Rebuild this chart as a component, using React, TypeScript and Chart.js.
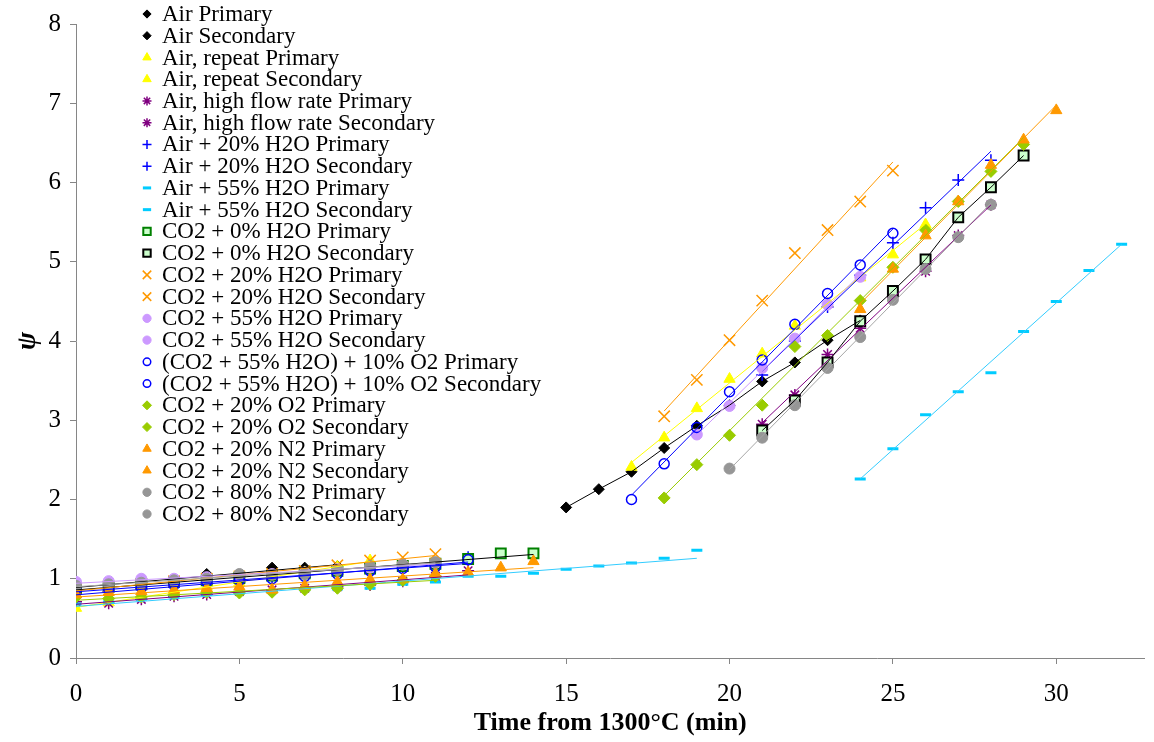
import React, { useEffect, useRef } from 'react';
import { Chart, registerables } from 'chart.js';
import { drawPoint } from 'chart.js/helpers';

Chart.register(...registerables);

// ---------- DATA ----------
const conditions = [
  'Air',
  'Air, repeat',
  'Air, high flow rate',
  'Air + 20% H2O',
  'Air + 55% H2O',
  'CO2 + 0% H2O',
  'CO2 + 20% H2O',
  'CO2 + 55% H2O',
  '(CO2 + 55% H2O) + 10% O2',
  'CO2 + 20% O2',
  'CO2 + 20% N2',
  'CO2 + 80% N2',
];
const phases = ['Primary', 'Secondary'];

const xTicks = [0, 5, 10, 15, 20, 25, 30];
const yTicks = [0, 1, 2, 3, 4, 5, 6, 7, 8];

// Primary stage (time, psi)
const airPT = [0, 1, 2, 3, 4, 5, 6, 7, 8];
const airPY = [0.90, 0.92, 0.95, 0.98, 1.06, 1.05, 1.14, 1.14, 1.16];
const airRepPT = [0, 1, 2, 3, 4, 5, 6, 7, 8, 9];
const airRepPY = [0.63, 0.70, 0.78, 0.84, 0.90, 0.95, 1.02, 1.08, 1.15, 1.23];
const airHighPT = [0, 1, 2, 3, 4, 5, 6, 7, 8, 9, 10, 11, 12];
const airHighPY = [0.71, 0.69, 0.74, 0.78, 0.80, 0.84, 0.86, 0.88, 0.90, 0.92, 0.97, 1.03, 1.10];
const air20PT = [0, 1, 2, 3, 4, 5, 6, 7, 8, 9, 10, 11, 12];
const air20PY = [0.82, 0.84, 0.87, 0.90, 0.93, 0.96, 0.99, 1.02, 1.06, 1.09, 1.13, 1.17, 1.27];
const air55PT = [0, 1, 2, 3, 4, 5, 6, 7, 8, 9, 10, 11, 12, 13, 14, 15, 16, 17, 18, 19];
const air55PY = [0.68, 0.71, 0.74, 0.77, 0.80, 0.82, 0.84, 0.86, 0.87, 0.88, 0.93, 0.96, 1.03, 1.03, 1.07, 1.12, 1.16, 1.20, 1.26, 1.36];
const co2h0PT = [0, 1, 2, 3, 4, 5, 6, 7, 8, 9, 10, 11, 12, 13, 14];
const co2h0PY = [0.88, 0.90, 0.93, 0.96, 0.98, 1.01, 1.04, 1.07, 1.10, 1.13, 1.16, 1.19, 1.25, 1.32, 1.32];
const co2h20PT = [0, 1, 2, 3, 4, 5, 6, 7, 8, 9, 10, 11];
const co2h20PY = [0.87, 0.90, 0.93, 0.97, 1.00, 1.03, 1.06, 1.10, 1.17, 1.23, 1.27, 1.31];
const co2h55PT = [0, 1, 2, 3, 4, 5, 6, 7, 8, 9, 10, 11];
const co2h55PY = [0.96, 0.97, 1.00, 1.00, 1.02, 1.04, 1.06, 1.08, 1.12, 1.14, 1.18, 1.20];
const co2h55o2PT = [0, 1, 2, 3, 4, 5, 6, 7, 8, 9, 10, 11, 12];
const co2h55o2PY = [0.86, 0.87, 0.89, 0.92, 0.96, 0.98, 1.00, 1.03, 1.06, 1.10, 1.13, 1.15, 1.24];
const co2o2PT = [0, 1, 2, 3, 4, 5, 6, 7, 8, 9, 10, 11];
const co2o2PY = [0.77, 0.75, 0.77, 0.80, 0.83, 0.82, 0.83, 0.86, 0.88, 0.93, 0.98, 1.03];
const co2n20PT = [0, 1, 2, 3, 4, 5, 6, 7, 8, 9, 10, 11, 12, 13, 14];
const co2n20PY = [0.80, 0.83, 0.84, 0.86, 0.88, 0.90, 0.86, 0.91, 0.96, 0.99, 0.99, 1.06, 1.08, 1.14, 1.22];
const co2n80PT = [0, 1, 2, 3, 4, 5, 6, 7, 8, 9, 10, 11];
const co2n80PY = [0.91, 0.93, 0.95, 0.98, 1.00, 1.06, 1.05, 1.06, 1.11, 1.16, 1.18, 1.21];

// Secondary stage (time, psi)
const airST = [15, 16, 17, 18, 19, 20, 21, 22, 23, 24];
const airSY = [1.90, 2.13, 2.35, 2.65, 2.93, 3.19, 3.49, 3.73, 4.01, 4.26];
const airRepST = [17, 18, 19, 20, 21, 22, 23, 24, 25, 26];
const airRepSY = [2.41, 2.78, 3.15, 3.52, 3.84, 4.19, 4.47, 4.80, 5.09, 5.47];
const airHighST = [21, 22, 23, 24, 25, 26, 27, 28];
const airHighSY = [2.95, 3.32, 3.83, 4.16, 4.55, 4.88, 5.33, 5.72];
const air20ST = [21, 22, 23, 24, 25, 26, 27, 28];
const air20SY = [3.57, 4.00, 4.43, 4.83, 5.24, 5.68, 6.03, 6.28];
const air55ST = [24, 25, 26, 27, 28, 29, 30, 31, 32];
const air55SY = [2.26, 2.64, 3.07, 3.36, 3.60, 4.12, 4.50, 4.89, 5.22];
const co2h0ST = [21, 22, 23, 24, 25, 26, 27, 28, 29];
const co2h0SY = [2.87, 3.25, 3.73, 4.25, 4.63, 5.03, 5.56, 5.94, 6.34];
const co2h20ST = [18, 19, 20, 21, 22, 23, 24, 25];
const co2h20SY = [3.05, 3.51, 4.01, 4.51, 5.11, 5.40, 5.76, 6.15];
const co2h55ST = [19, 20, 21, 22, 23, 24];
const co2h55SY = [2.82, 3.18, 3.66, 4.03, 4.46, 4.81];
const co2h55o2ST = [17, 18, 19, 20, 21, 22, 23, 24, 25];
const co2h55o2SY = [2.00, 2.45, 2.91, 3.36, 3.76, 4.21, 4.60, 4.96, 5.36];
const co2o2ST = [18, 19, 20, 21, 22, 23, 24, 25, 26, 27, 28, 29];
const co2o2SY = [2.02, 2.44, 2.81, 3.19, 3.93, 4.07, 4.51, 4.93, 5.40, 5.76, 6.14, 6.48];
const co2n20ST = [24, 25, 26, 27, 28, 29, 30];
const co2n20SY = [4.40, 4.91, 5.33, 5.76, 6.22, 6.54, 6.91];
const co2n80ST = [20, 21, 22, 23, 24, 25, 26, 27, 28];
const co2n80SY = [2.39, 2.78, 3.19, 3.66, 4.05, 4.52, 4.91, 5.31, 5.72];

const seriesT = [
  airPT, airST, airRepPT, airRepST, airHighPT, airHighST, air20PT, air20ST,
  air55PT, air55ST, co2h0PT, co2h0ST, co2h20PT, co2h20ST, co2h55PT, co2h55ST,
  co2h55o2PT, co2h55o2ST, co2o2PT, co2o2ST, co2n20PT, co2n20ST, co2n80PT, co2n80ST,
];
const seriesY = [
  airPY, airSY, airRepPY, airRepSY, airHighPY, airHighSY, air20PY, air20SY,
  air55PY, air55SY, co2h0PY, co2h0SY, co2h20PY, co2h20SY, co2h55PY, co2h55SY,
  co2h55o2PY, co2h55o2SY, co2o2PY, co2o2SY, co2n20PY, co2n20SY, co2n80PY, co2n80SY,
];

// ---------- STYLES ----------
type Sty = {
  ps: string; fill: string; border: string; bw: number; r: number; line: string; mode: 'fit' | 'connect';
};
const condStyles: Sty[] = [
  { ps: 'rectRot', fill: '#000000', border: '#000000', bw: 1, r: 5.5, line: '#000000', mode: 'fit' },
  { ps: 'triangle', fill: '#FFFF00', border: '#FFFF00', bw: 1, r: 6.5, line: '#FFFF00', mode: 'fit' },
  { ps: 'star', fill: '#800080', border: '#800080', bw: 1.5, r: 6, line: '#800080', mode: 'fit' },
  { ps: 'cross', fill: '#0000FF', border: '#0000FF', bw: 1.5, r: 6, line: '#0000FF', mode: 'fit' },
  { ps: 'line', fill: '#00CCFF', border: '#00CCFF', bw: 3, r: 5.5, line: '#33CCFF', mode: 'fit' },
  { ps: 'rect', fill: '#CCFFCC', border: '#008000', bw: 2, r: 7, line: '#000000', mode: 'fit' },
  { ps: 'crossRot', fill: '#FF9900', border: '#FF9900', bw: 1.5, r: 8, line: '#FF9900', mode: 'fit' },
  { ps: 'circle', fill: '#CC99FF', border: '#CC99FF', bw: 1, r: 5.5, line: '#CC99FF', mode: 'fit' },
  { ps: 'circle', fill: 'rgba(255,255,255,0)', border: '#0000FF', bw: 1.5, r: 5, line: '#0000FF', mode: 'fit' },
  { ps: 'rectRot', fill: '#99CC00', border: '#99CC00', bw: 1, r: 6, line: '#99CC00', mode: 'fit' },
  { ps: 'triangle', fill: '#FF9900', border: '#FF9900', bw: 1, r: 6.5, line: '#FF9900', mode: 'fit' },
  { ps: 'circle', fill: '#969696', border: '#969696', bw: 1, r: 5.5, line: '#A6A6A6', mode: 'fit' },
];

function styleFor(i: number): Sty {
  const base = condStyles[Math.floor(i / 2)];
  const s = { ...base };
  if (i === 11) s.border = '#000000'; // CO2 + 0% H2O secondary square border
  if (i === 1 || i === 11) s.mode = 'connect';
  return s;
}

const FONT = '"Liberation Serif", "Times New Roman", serif';

function labelFor(i: number) {
  return conditions[Math.floor(i / 2)] + ' ' + phases[i % 2];
}

function fitLine(t: number[], y: number[]) {
  const n = t.length;
  const mt = t.reduce((a, b) => a + b, 0) / n;
  const my = y.reduce((a, b) => a + b, 0) / n;
  let sxy = 0, sxx = 0;
  for (let k = 0; k < n; k++) { sxy += (t[k] - mt) * (y[k] - my); sxx += (t[k] - mt) * (t[k] - mt); }
  const b = sxy / sxx;
  const a = my - b * mt;
  const t0 = Math.min(...t), t1 = Math.max(...t);
  return [{ x: t0, y: a + b * t0 }, { x: t1, y: a + b * t1 }];
}

const LEGEND_X_MARK = 147;
const LEGEND_X_TEXT = 162;
const LEGEND_TOP = 14;
const LEGEND_STEP = 21.74;

const legendPlugin = {
  id: 'customLegend',
  afterDraw(chart: any) {
    const ctx = chart.ctx as CanvasRenderingContext2D;
    ctx.save();
    ctx.textBaseline = 'middle';
    ctx.textAlign = 'left';
    for (let i = 0; i < seriesT.length; i++) {
      const s = styleFor(i);
      const y = LEGEND_TOP + i * LEGEND_STEP;
      ctx.fillStyle = s.fill;
      ctx.strokeStyle = s.border;
      ctx.lineWidth = s.bw;
      drawPoint(ctx, { pointStyle: s.ps as any, radius: s.r * 0.75, rotation: 0, borderWidth: s.bw } as any, LEGEND_X_MARK, y);
      ctx.fillStyle = '#000000';
      ctx.font = '23px ' + FONT;
      ctx.fillText(labelFor(i), LEGEND_X_TEXT, y + 1);
    }
    ctx.restore();
  },
};

export default function App() {
  const ref = useRef<HTMLCanvasElement | null>(null);

  useEffect(() => {
    if (!ref.current) return;
    const N = seriesT.length;
    const datasets: any[] = [];
    for (let i = 0; i < N; i++) {
      const s = styleFor(i);
      const pts = seriesT[i].map((x, k) => ({ x, y: seriesY[i][k] }));
      datasets.push({
        label: labelFor(i),
        data: pts,
        showLine: false,
        pointStyle: s.ps,
        pointRadius: s.r,
        pointBackgroundColor: s.fill,
        pointBorderColor: s.border,
        pointBorderWidth: s.bw,
        order: 200 + (N - i),
      });
      datasets.push({
        label: labelFor(i) + ' trend',
        data: s.mode === 'fit' ? fitLine(seriesT[i], seriesY[i]) : pts,
        showLine: true,
        pointRadius: 0,
        borderColor: s.line,
        borderWidth: 1,
        fill: false,
        order: 100 + (N - i),
      });
    }

    const chart = new Chart(ref.current, {
      type: 'scatter',
      data: { datasets },
      plugins: [legendPlugin],
      options: {
        animation: false,
        responsive: false,
        devicePixelRatio: 1,
        layout: { padding: { left: 0, right: 4, top: 18, bottom: 0 } },
        plugins: { legend: { display: false }, tooltip: { enabled: false } },
        elements: { line: { tension: 0 } },
        scales: {
          x: {
            type: 'linear',
            min: 0,
            max: 32.7,
            afterBuildTicks: (scale: any) => { scale.ticks = xTicks.map((v) => ({ value: v })); },
            afterFit: (scale: any) => { scale.height = 84; },
            grid: { display: true, drawOnChartArea: false, drawTicks: true, tickLength: 6, color: '#868686', tickColor: '#868686' },
            border: { display: true, color: '#868686', width: 1 },
            ticks: { color: '#000000', font: { family: FONT, size: 25 }, padding: 15, maxRotation: 0, autoSkip: false },
            title: {
              display: true,
              text: 'Time from 1300°C (min)',
              color: '#000000',
              font: { family: FONT, size: 26, weight: 'bold' },
              padding: { top: 0, bottom: 3 },
            },
          },
          y: {
            type: 'linear',
            min: 0,
            max: 8,
            afterBuildTicks: (scale: any) => { scale.ticks = yTicks.map((v) => ({ value: v })); },
            afterFit: (scale: any) => { scale.width = 76; },
            grid: { display: true, drawOnChartArea: false, drawTicks: true, tickLength: 6, color: '#868686', tickColor: '#868686' },
            border: { display: true, color: '#868686', width: 1 },
            ticks: { color: '#000000', font: { family: FONT, size: 25 }, padding: 9 },
            title: {
              display: true,
              text: 'ψ',
              color: '#000000',
              font: { family: FONT, size: 27, weight: 'bold', style: 'italic' },
              padding: { top: 12, bottom: 0 },
            },
          },
        },
      } as any,
    });
    return () => chart.destroy();
  }, []);

  return (
    <div style={{ position: 'fixed', left: 0, top: 0, width: 1154, height: 742, background: '#ffffff' }}>
      <canvas ref={ref} width={1154} height={742} style={{ display: 'block', width: 1154, height: 742 }} />
    </div>
  );
}
